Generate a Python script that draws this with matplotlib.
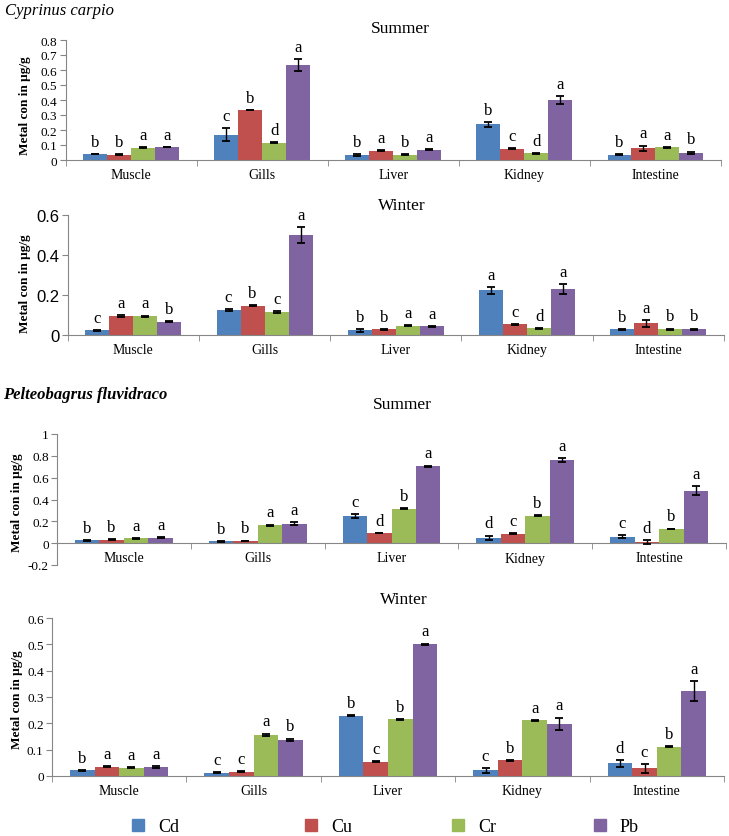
import matplotlib
matplotlib.use('Agg')
import matplotlib.pyplot as plt
from matplotlib.lines import Line2D
from matplotlib.ticker import FuncFormatter
import numpy as np

plt.rcParams['font.family'] = ['Liberation Serif', 'DejaVu Serif']

organs = ['Muscle', 'Gills', 'Liver', 'Kidney', 'Intestine']
metals = ['Cd', 'Cu', 'Cr', 'Pb']
colors = ['#4F81BD', '#C0504D', '#9BBB59', '#8064A2']

# Cyprinus carpio - summer (rows = organs, cols = Cd, Cu, Cr, Pb)
cc_sum = [[0.040, 0.035, 0.082, 0.086],
          [0.170, 0.333, 0.115, 0.635],
          [0.033, 0.062, 0.035, 0.068],
          [0.238, 0.075, 0.045, 0.400],
          [0.035, 0.078, 0.085, 0.048]]
cc_sum_err = [[0.002, 0.002, 0.002, 0.002],
              [0.045, 0.002, 0.003, 0.040],
              [0.005, 0.003, 0.002, 0.003],
              [0.015, 0.003, 0.002, 0.025],
              [0.002, 0.018, 0.003, 0.008]]
cc_sum_let = [['b', 'b', 'a', 'a'], ['c', 'b', 'd', 'a'], ['b', 'a', 'b', 'a'],
              ['b', 'c', 'd', 'a'], ['b', 'a', 'a', 'b']]

# Cyprinus carpio - winter
cc_win = [[0.023, 0.095, 0.093, 0.065],
          [0.123, 0.145, 0.113, 0.497],
          [0.022, 0.028, 0.045, 0.042],
          [0.222, 0.052, 0.032, 0.230],
          [0.027, 0.058, 0.028, 0.028]]
cc_win_err = [[0.002, 0.004, 0.003, 0.003],
              [0.004, 0.002, 0.004, 0.040],
              [0.007, 0.002, 0.002, 0.003],
              [0.017, 0.002, 0.002, 0.025],
              [0.002, 0.017, 0.003, 0.003]]
cc_win_let = [['c', 'a', 'a', 'b'], ['c', 'b', 'c', 'a'], ['b', 'b', 'a', 'a'],
              ['a', 'c', 'd', 'a'], ['b', 'a', 'b', 'b']]

# Pelteobagrus fluvidraco - summer
pf_sum = [[0.025, 0.030, 0.043, 0.050],
          [0.016, 0.022, 0.165, 0.180],
          [0.248, 0.092, 0.315, 0.706],
          [0.050, 0.088, 0.250, 0.760],
          [0.058, 0.010, 0.130, 0.480]]
pf_sum_err = [[0.005, 0.005, 0.004, 0.006],
              [0.003, 0.002, 0.005, 0.010],
              [0.020, 0.003, 0.003, 0.004],
              [0.020, 0.004, 0.004, 0.020],
              [0.015, 0.015, 0.003, 0.040]]
pf_sum_let = [['b', 'b', 'a', 'a'], ['b', 'b', 'a', 'a'], ['c', 'd', 'b', 'a'],
              ['d', 'c', 'b', 'a'], ['c', 'd', 'b', 'a']]

# Pelteobagrus fluvidraco - winter
pf_win = [[0.021, 0.035, 0.031, 0.035],
          [0.012, 0.016, 0.157, 0.137],
          [0.229, 0.055, 0.215, 0.501],
          [0.021, 0.060, 0.211, 0.199],
          [0.049, 0.029, 0.112, 0.322]]
pf_win_err = [[0.002, 0.002, 0.002, 0.003],
              [0.002, 0.002, 0.004, 0.005],
              [0.002, 0.002, 0.002, 0.002],
              [0.008, 0.002, 0.002, 0.023],
              [0.013, 0.017, 0.002, 0.038]]
pf_win_let = [['b', 'a', 'a', 'a'], ['c', 'c', 'a', 'b'], ['b', 'c', 'b', 'a'],
              ['c', 'b', 'a', 'a'], ['d', 'c', 'b', 'a']]

W, H = 729, 837
fig = plt.figure(figsize=(W / 100, H / 100), dpi=100)


def px_axes(left, right, top, bottom):
    return fig.add_axes([left / W, 1 - bottom / H, (right - left) / W, (bottom - top) / H])


def draw_panel(ax, vals, errs, lets, ylim, yticks, tick_font=None, tick_size=9.5):
    vals = np.array(vals)
    errs = np.array(errs)
    x = np.arange(len(organs))
    w = 0.183
    for j, m in enumerate(metals):
        pos = x + (j - 1.5) * w
        ax.bar(pos, vals[:, j], w, color=colors[j], edgecolor='none', zorder=2)
        ax.errorbar(pos, vals[:, j], yerr=errs[:, j], fmt='none', ecolor='black',
                    elinewidth=1, capsize=3, capthick=1.3, zorder=3)
        for i in range(len(organs)):
            ax.annotate(lets[i][j], (pos[i], vals[i, j] + errs[i, j]), xytext=(0, 3),
                        textcoords='offset points', ha='center', va='bottom', fontsize=12)
    ax.set_xlim(-0.5, len(organs) - 0.5)
    ax.set_ylim(*ylim)
    ax.set_yticks(yticks)
    ax.yaxis.set_major_formatter(FuncFormatter(lambda v, _: '%g' % round(v, 2)))
    ax.set_xticks(x)
    ax.set_xticklabels(organs, fontsize=9.5)
    ax.set_xticks(np.arange(-0.5, len(organs)), minor=True)
    ax.tick_params(axis='x', which='major', length=0, pad=6)
    ax.tick_params(axis='x', which='minor', length=4, direction='out', color='#868686')
    ax.tick_params(axis='y', length=4, direction='out', color='#868686', labelsize=tick_size, pad=2)
    if tick_font:
        for t in ax.get_yticklabels():
            t.set_family(tick_font)
    for s in ['top', 'right']:
        ax.spines[s].set_visible(False)
    for s in ['left', 'bottom']:
        ax.spines[s].set_color('#868686')
        ax.spines[s].set_linewidth(0.8)
    ax.spines['bottom'].set_position(('data', 0))
    ax.patch.set_alpha(0)


ax1 = px_axes(65.7, 721, 41, 161)
draw_panel(ax1, cc_sum, cc_sum_err, cc_sum_let, (0, 0.8), np.arange(0, 0.81, 0.1))
ax2 = px_axes(67.7, 724, 215.7, 335.7)
draw_panel(ax2, cc_win, cc_win_err, cc_win_let, (0, 0.6), [0, 0.2, 0.4, 0.6],
           tick_font='Liberation Sans', tick_size=12)
ax3 = px_axes(57, 726, 435, 566)
draw_panel(ax3, pf_sum, pf_sum_err, pf_sum_let, (-0.2, 1), np.arange(-0.2, 1.01, 0.2))
ax4 = px_axes(52, 724, 619, 777)
draw_panel(ax4, pf_win, pf_win_err, pf_win_let, (0, 0.6), np.arange(0, 0.61, 0.1))


def ftext(x, y, s, **kw):
    fig.text(x / W, 1 - y / H, s, **kw)


ftext(5, 11, 'Cyprinus carpio', fontsize=12, style='italic', va='center')
ftext(3, 395, 'Pelteobagrus fluvidraco', fontsize=12, style='italic', weight='bold', va='center')
ftext(400, 29, 'Summer', fontsize=12.5, ha='center', va='center')
ftext(402, 206, 'Winter', fontsize=12.5, ha='center', va='center')
ftext(402, 405, 'Summer', fontsize=12.5, ha='center', va='center')
ftext(404, 600, 'Winter', fontsize=12.5, ha='center', va='center')

for lx, ly in [(25, 106), (25, 284), (17, 503), (17, 700)]:
    ftext(lx, ly, 'Metal con in µg/g', fontsize=9.5, weight='bold', rotation=90,
          ha='center', va='center')

# legend entries placed individually
for mx, m, c in zip([137, 310, 457, 599], metals, colors):
    h = Line2D([], [], marker='s', linestyle='none', markersize=8, color=c)
    fig.legend(handles=[h], labels=[m], loc='center left',
               bbox_to_anchor=((mx - 8) / W, 1 - 828 / H), frameon=False, fontsize=13,
               handlelength=1, handletextpad=0.6, borderpad=0, borderaxespad=0)

fig.savefig('out.png', dpi=100)
